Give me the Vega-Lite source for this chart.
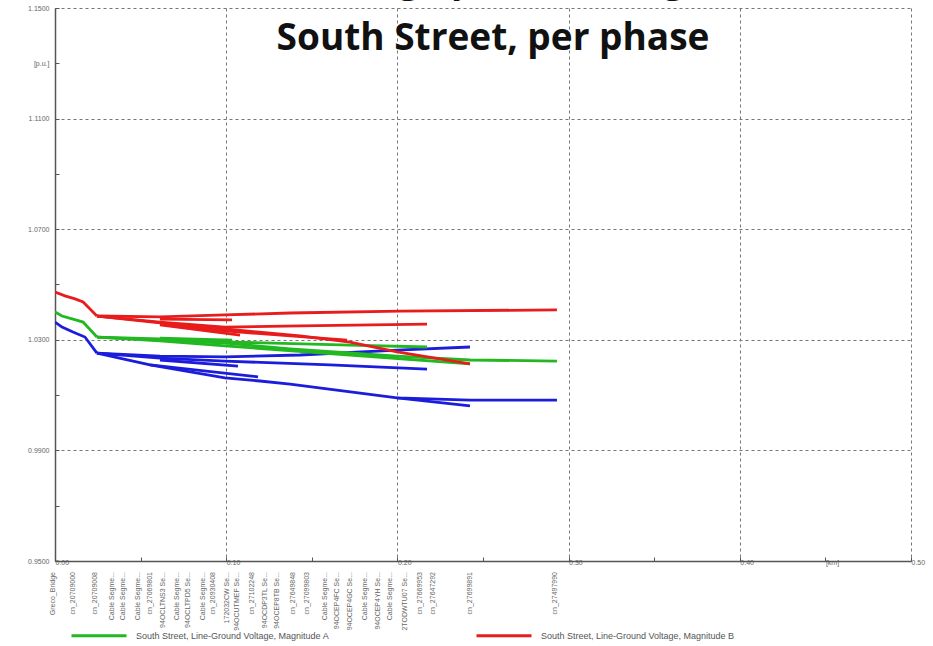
{
  "$schema": "https://vega.github.io/schema/vega-lite/v6.json",
  "autosize": "none",
  "width": 856,
  "height": 553,
  "padding": {"left": 55, "top": 8, "right": 22, "bottom": 85},
  "background": "white",
  "title": {
    "text": ["Voltage profile along", "South Street, per phase"],
    "font": "Open Sans",
    "fontSize": 37,
    "fontWeight": "bold",
    "color": "#111111",
    "anchor": "middle",
    "baseline": "bottom",
    "lineHeight": 58,
    "offset": -91,
    "dx": 10
  },
  "datasets": {
    "profile": [
      {"phase": "South Street, Line-Ground Voltage, Magnitude C", "branch": "C-trunk", "km": 0.0, "v": 1.0364},
      {"phase": "South Street, Line-Ground Voltage, Magnitude C", "branch": "C-trunk", "km": 0.0041, "v": 1.0346},
      {"phase": "South Street, Line-Ground Voltage, Magnitude C", "branch": "C-trunk", "km": 0.0105, "v": 1.0328},
      {"phase": "South Street, Line-Ground Voltage, Magnitude C", "branch": "C-trunk", "km": 0.0175, "v": 1.0310},
      {"phase": "South Street, Line-Ground Voltage, Magnitude C", "branch": "C-trunk", "km": 0.0245, "v": 1.0252},
      {"phase": "South Street, Line-Ground Voltage, Magnitude C", "branch": "C1", "km": 0.0245, "v": 1.0252},
      {"phase": "South Street, Line-Ground Voltage, Magnitude C", "branch": "C1", "km": 0.0613, "v": 1.0241},
      {"phase": "South Street, Line-Ground Voltage, Magnitude C", "branch": "C1", "km": 0.0993, "v": 1.0238},
      {"phase": "South Street, Line-Ground Voltage, Magnitude C", "branch": "C1", "km": 0.1431, "v": 1.0245},
      {"phase": "South Street, Line-Ground Voltage, Magnitude C", "branch": "C1", "km": 0.1998, "v": 1.0263},
      {"phase": "South Street, Line-Ground Voltage, Magnitude C", "branch": "C1", "km": 0.2424, "v": 1.0274},
      {"phase": "South Street, Line-Ground Voltage, Magnitude C", "branch": "C2", "km": 0.0245, "v": 1.0252},
      {"phase": "South Street, Line-Ground Voltage, Magnitude C", "branch": "C2", "km": 0.0613, "v": 1.0234},
      {"phase": "South Street, Line-Ground Voltage, Magnitude C", "branch": "C2", "km": 0.0993, "v": 1.0223},
      {"phase": "South Street, Line-Ground Voltage, Magnitude C", "branch": "C2", "km": 0.1606, "v": 1.0209},
      {"phase": "South Street, Line-Ground Voltage, Magnitude C", "branch": "C2", "km": 0.2173, "v": 1.0194},
      {"phase": "South Street, Line-Ground Voltage, Magnitude C", "branch": "C3", "km": 0.0245, "v": 1.0252},
      {"phase": "South Street, Line-Ground Voltage, Magnitude C", "branch": "C3", "km": 0.0555, "v": 1.0209},
      {"phase": "South Street, Line-Ground Voltage, Magnitude C", "branch": "C3", "km": 0.0993, "v": 1.0162},
      {"phase": "South Street, Line-Ground Voltage, Magnitude C", "branch": "C3", "km": 0.1197, "v": 1.0151},
      {"phase": "South Street, Line-Ground Voltage, Magnitude C", "branch": "C3", "km": 0.1373, "v": 1.0140},
      {"phase": "South Street, Line-Ground Voltage, Magnitude C", "branch": "C3", "km": 0.1998, "v": 1.0090},
      {"phase": "South Street, Line-Ground Voltage, Magnitude C", "branch": "C3", "km": 0.2424, "v": 1.0082},
      {"phase": "South Street, Line-Ground Voltage, Magnitude C", "branch": "C3", "km": 0.2932, "v": 1.0082},
      {"phase": "South Street, Line-Ground Voltage, Magnitude C", "branch": "C4", "km": 0.1998, "v": 1.0090},
      {"phase": "South Street, Line-Ground Voltage, Magnitude C", "branch": "C4", "km": 0.2424, "v": 1.0061},
      {"phase": "South Street, Line-Ground Voltage, Magnitude C", "branch": "C5", "km": 0.0555, "v": 1.0209},
      {"phase": "South Street, Line-Ground Voltage, Magnitude C", "branch": "C5", "km": 0.1186, "v": 1.0166},
      {"phase": "South Street, Line-Ground Voltage, Magnitude C", "branch": "C6", "km": 0.0613, "v": 1.0227},
      {"phase": "South Street, Line-Ground Voltage, Magnitude C", "branch": "C6", "km": 0.1069, "v": 1.0205},

      {"phase": "South Street, Line-Ground Voltage, Magnitude A", "branch": "A-trunk", "km": 0.0, "v": 1.0401},
      {"phase": "South Street, Line-Ground Voltage, Magnitude A", "branch": "A-trunk", "km": 0.0041, "v": 1.0386},
      {"phase": "South Street, Line-Ground Voltage, Magnitude A", "branch": "A-trunk", "km": 0.0105, "v": 1.0375},
      {"phase": "South Street, Line-Ground Voltage, Magnitude A", "branch": "A-trunk", "km": 0.0164, "v": 1.0364},
      {"phase": "South Street, Line-Ground Voltage, Magnitude A", "branch": "A-trunk", "km": 0.0245, "v": 1.0310},
      {"phase": "South Street, Line-Ground Voltage, Magnitude A", "branch": "A1", "km": 0.0245, "v": 1.0310},
      {"phase": "South Street, Line-Ground Voltage, Magnitude A", "branch": "A1", "km": 0.0613, "v": 1.0299},
      {"phase": "South Street, Line-Ground Voltage, Magnitude A", "branch": "A1", "km": 0.0993, "v": 1.0288},
      {"phase": "South Street, Line-Ground Voltage, Magnitude A", "branch": "A1", "km": 0.1373, "v": 1.0267},
      {"phase": "South Street, Line-Ground Voltage, Magnitude A", "branch": "A1", "km": 0.1998, "v": 1.0241},
      {"phase": "South Street, Line-Ground Voltage, Magnitude A", "branch": "A1", "km": 0.2424, "v": 1.0227},
      {"phase": "South Street, Line-Ground Voltage, Magnitude A", "branch": "A1", "km": 0.2932, "v": 1.0223},
      {"phase": "South Street, Line-Ground Voltage, Magnitude A", "branch": "A2", "km": 0.0245, "v": 1.0310},
      {"phase": "South Street, Line-Ground Voltage, Magnitude A", "branch": "A2", "km": 0.0613, "v": 1.0296},
      {"phase": "South Street, Line-Ground Voltage, Magnitude A", "branch": "A2", "km": 0.0993, "v": 1.0278},
      {"phase": "South Street, Line-Ground Voltage, Magnitude A", "branch": "A2", "km": 0.1723, "v": 1.0245},
      {"phase": "South Street, Line-Ground Voltage, Magnitude A", "branch": "A2", "km": 0.2424, "v": 1.0213},
      {"phase": "South Street, Line-Ground Voltage, Magnitude A", "branch": "A3", "km": 0.0245, "v": 1.0310},
      {"phase": "South Street, Line-Ground Voltage, Magnitude A", "branch": "A3", "km": 0.0613, "v": 1.0303},
      {"phase": "South Street, Line-Ground Voltage, Magnitude A", "branch": "A3", "km": 0.0993, "v": 1.0292},
      {"phase": "South Street, Line-Ground Voltage, Magnitude A", "branch": "A3", "km": 0.1723, "v": 1.0281},
      {"phase": "South Street, Line-Ground Voltage, Magnitude A", "branch": "A3", "km": 0.2173, "v": 1.0274},
      {"phase": "South Street, Line-Ground Voltage, Magnitude A", "branch": "A4", "km": 0.0613, "v": 1.0306},
      {"phase": "South Street, Line-Ground Voltage, Magnitude A", "branch": "A4", "km": 0.1034, "v": 1.0299},

      {"phase": "South Street, Line-Ground Voltage, Magnitude B", "branch": "B-trunk", "km": 0.0, "v": 1.0473},
      {"phase": "South Street, Line-Ground Voltage, Magnitude B", "branch": "B-trunk", "km": 0.0058, "v": 1.0459},
      {"phase": "South Street, Line-Ground Voltage, Magnitude B", "branch": "B-trunk", "km": 0.0117, "v": 1.0448},
      {"phase": "South Street, Line-Ground Voltage, Magnitude B", "branch": "B-trunk", "km": 0.0164, "v": 1.0437},
      {"phase": "South Street, Line-Ground Voltage, Magnitude B", "branch": "B-trunk", "km": 0.0193, "v": 1.0419},
      {"phase": "South Street, Line-Ground Voltage, Magnitude B", "branch": "B-trunk", "km": 0.0245, "v": 1.0386},
      {"phase": "South Street, Line-Ground Voltage, Magnitude B", "branch": "B1", "km": 0.0245, "v": 1.0386},
      {"phase": "South Street, Line-Ground Voltage, Magnitude B", "branch": "B1", "km": 0.0613, "v": 1.0383},
      {"phase": "South Street, Line-Ground Voltage, Magnitude B", "branch": "B1", "km": 0.0993, "v": 1.0390},
      {"phase": "South Street, Line-Ground Voltage, Magnitude B", "branch": "B1", "km": 0.1373, "v": 1.0397},
      {"phase": "South Street, Line-Ground Voltage, Magnitude B", "branch": "B1", "km": 0.2015, "v": 1.0404},
      {"phase": "South Street, Line-Ground Voltage, Magnitude B", "branch": "B1", "km": 0.2932, "v": 1.0408},
      {"phase": "South Street, Line-Ground Voltage, Magnitude B", "branch": "B2", "km": 0.0245, "v": 1.0386},
      {"phase": "South Street, Line-Ground Voltage, Magnitude B", "branch": "B2", "km": 0.0613, "v": 1.0364},
      {"phase": "South Street, Line-Ground Voltage, Magnitude B", "branch": "B2", "km": 0.0993, "v": 1.0346},
      {"phase": "South Street, Line-Ground Voltage, Magnitude B", "branch": "B2", "km": 0.1431, "v": 1.0350},
      {"phase": "South Street, Line-Ground Voltage, Magnitude B", "branch": "B2", "km": 0.2173, "v": 1.0357},
      {"phase": "South Street, Line-Ground Voltage, Magnitude B", "branch": "B3", "km": 0.0245, "v": 1.0386},
      {"phase": "South Street, Line-Ground Voltage, Magnitude B", "branch": "B3", "km": 0.0613, "v": 1.0361},
      {"phase": "South Street, Line-Ground Voltage, Magnitude B", "branch": "B3", "km": 0.0993, "v": 1.0339},
      {"phase": "South Street, Line-Ground Voltage, Magnitude B", "branch": "B3", "km": 0.1431, "v": 1.0314},
      {"phase": "South Street, Line-Ground Voltage, Magnitude B", "branch": "B3", "km": 0.1723, "v": 1.0292},
      {"phase": "South Street, Line-Ground Voltage, Magnitude B", "branch": "B3", "km": 0.1998, "v": 1.0256},
      {"phase": "South Street, Line-Ground Voltage, Magnitude B", "branch": "B3", "km": 0.2424, "v": 1.0213},
      {"phase": "South Street, Line-Ground Voltage, Magnitude B", "branch": "B4", "km": 0.0613, "v": 1.0357},
      {"phase": "South Street, Line-Ground Voltage, Magnitude B", "branch": "B4", "km": 0.0993, "v": 1.0332},
      {"phase": "South Street, Line-Ground Voltage, Magnitude B", "branch": "B4", "km": 0.1706, "v": 1.0299},
      {"phase": "South Street, Line-Ground Voltage, Magnitude B", "branch": "B5", "km": 0.0613, "v": 1.0375},
      {"phase": "South Street, Line-Ground Voltage, Magnitude B", "branch": "B5", "km": 0.1034, "v": 1.0372},
      {"phase": "South Street, Line-Ground Voltage, Magnitude B", "branch": "B6", "km": 0.0613, "v": 1.0354},
      {"phase": "South Street, Line-Ground Voltage, Magnitude B", "branch": "B6", "km": 0.1081, "v": 1.0317}
    ],
    "nodes": [
      {"km": -0.0012, "name": "Greco_Bridge"},
      {"km": 0.0105, "name": "cn_20709000"},
      {"km": 0.0234, "name": "cn_20709008"},
      {"km": 0.0333, "name": "Cable Segme..."},
      {"km": 0.0397, "name": "Cable Segme..."},
      {"km": 0.0485, "name": "Cable Segme..."},
      {"km": 0.0555, "name": "cn_27069801"},
      {"km": 0.0631, "name": "94OCLTNS3 Se..."},
      {"km": 0.0713, "name": "Cable Segme..."},
      {"km": 0.0777, "name": "94OCLTPD5 Se..."},
      {"km": 0.0864, "name": "Cable Segme..."},
      {"km": 0.0923, "name": "cn_20930408"},
      {"km": 0.1005, "name": "172032CW Se..."},
      {"km": 0.1063, "name": "94OCUTMEF Se..."},
      {"km": 0.1151, "name": "cn_27102248"},
      {"km": 0.1227, "name": "94OCDP3TL Se..."},
      {"km": 0.1297, "name": "94OCEP8TB Se..."},
      {"km": 0.1390, "name": "cn_27649848"},
      {"km": 0.1472, "name": "cn_27099803"},
      {"km": 0.1577, "name": "Cable Segme..."},
      {"km": 0.1647, "name": "94OCEP4FC Se..."},
      {"km": 0.1723, "name": "94OCEP4GC Se..."},
      {"km": 0.1811, "name": "Cable Segme..."},
      {"km": 0.1887, "name": "94OCEP4YH Se..."},
      {"km": 0.1957, "name": "Cable Segme..."},
      {"km": 0.2044, "name": "2TODWTU07 Se..."},
      {"km": 0.2132, "name": "cn_27669953"},
      {"km": 0.2208, "name": "cn_27647292"},
      {"km": 0.2424, "name": "cn_27699891"},
      {"km": 0.2921, "name": "cn_27497990"}
    ]
  },
  "layer": [
    {
      "data": {"name": "profile"},
      "mark": {"type": "line", "strokeWidth": 2.8, "clip": true},
      "encoding": {
        "x": {
          "field": "km",
          "type": "quantitative",
          "scale": {"domain": [0, 0.5], "nice": false, "zero": false},
          "axis": {
            "title": null,
            "values": [0, 0.05, 0.1, 0.15, 0.2, 0.25, 0.3, 0.35, 0.4, 0.45, 0.5],
            "labelExpr": "round(datum.value * 100) == 45 ? '[km]' : (round(datum.value * 100) % 10 == 0 ? format(datum.value, '.2f') : '')",
            "labelAlign": "left",
            "labelFont": "Liberation Sans",
            "labelFontSize": 7,
            "labelColor": "#666666",
            "labelPadding": 1,
            "labelOverlap": false,
            "labelFlush": false,
            "domainColor": "#555555",
            "domainWidth": 1.5,
            "tickColor": "#555555",
            "tickSize": -4,
            "grid": true,
            "gridColor": "#777777",
            "gridDash": [3, 3],
            "gridWidth": 1,
            "gridOpacity": {"condition": {"test": "round(datum.value * 100) % 10 != 0", "value": 0}, "value": 1}
          }
        },
        "y": {
          "field": "v",
          "type": "quantitative",
          "scale": {"domain": [0.95, 1.15], "nice": false, "zero": false},
          "axis": {
            "title": null,
            "values": [0.95, 0.97, 0.99, 1.01, 1.03, 1.05, 1.07, 1.09, 1.11, 1.13, 1.15],
            "labelExpr": "round(datum.value * 100) == 113 ? '[p.u.]' : (round(datum.value * 100) % 4 == 3 ? format(datum.value, '.4f') : '')",
            "labelFont": "Liberation Sans",
            "labelFontSize": 7,
            "labelColor": "#666666",
            "labelPadding": 10,
            "labelOverlap": false,
            "labelFlush": false,
            "domainColor": "#555555",
            "domainWidth": 1.5,
            "tickColor": "#555555",
            "tickSize": -4,
            "grid": true,
            "gridColor": "#777777",
            "gridDash": [3, 3],
            "gridWidth": 1,
            "gridOpacity": {"condition": {"test": "round(datum.value * 100) % 4 != 3", "value": 0}, "value": 1}
          }
        },
        "color": {
          "field": "phase",
          "type": "nominal",
          "scale": {
            "domain": [
              "South Street, Line-Ground Voltage, Magnitude A",
              "South Street, Line-Ground Voltage, Magnitude B",
              "South Street, Line-Ground Voltage, Magnitude C"
            ],
            "range": ["#22b822", "#e81c1c", "#1c1cdc"]
          },
          "legend": {
            "title": null,
            "orient": "none",
            "direction": "horizontal",
            "legendX": 37.5,
            "legendY": 621,
            "columns": 2,
            "columnPadding": 140,
            "rowPadding": 1,
            "symbolType": "M-5.5,0H5.5",
            "symbolSize": 100,
            "symbolStrokeWidth": 3,
            "labelOffset": 30.5,
            "labelFont": "Liberation Sans",
            "labelFontSize": 9,
            "labelColor": "#555555",
            "labelLimit": 400
          }
        },
        "detail": {"field": "branch", "type": "nominal"}
      }
    },
    {
      "data": {"name": "nodes"},
      "mark": {
        "type": "text",
        "angle": 270,
        "align": "right",
        "baseline": "middle",
        "dx": -11,
        "font": "Liberation Sans",
        "fontSize": 7,
        "color": "#666666"
      },
      "encoding": {
        "x": {"field": "km", "type": "quantitative"},
        "y": {"datum": 0.95},
        "text": {"field": "name"}
      }
    }
  ],
  "config": {
    "view": {"stroke": null}
  }
}
